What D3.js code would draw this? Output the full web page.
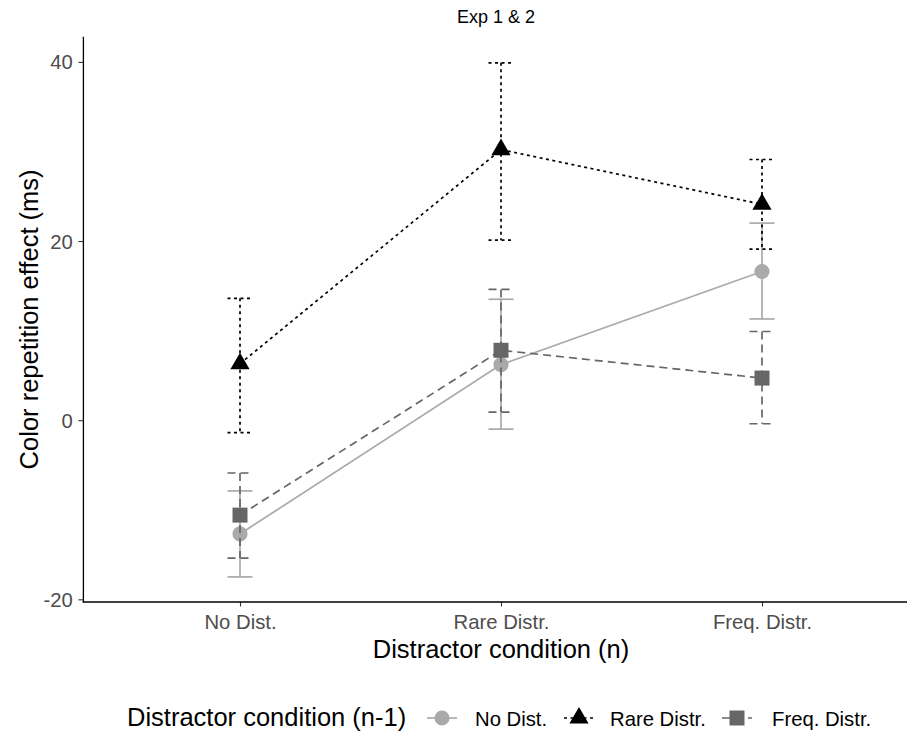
<!DOCTYPE html>
<html>
<head>
<meta charset="utf-8">
<script src="https://cdn.jsdelivr.net/npm/d3@7"></script>
<style>
  html, body { margin: 0; padding: 0; background: #ffffff; }
  svg { display: block; font-family: "Liberation Sans", Arial, sans-serif; }
</style>
</head>
<body>
<svg id="chart" width="907" height="731"></svg>
<script>
// ---- data ----
const categories = ["No Dist.", "Rare Distr.", "Freq. Distr."];
const seriesNames = ["No Dist.", "Rare Distr.", "Freq. Distr."];
const meanNoDist = [-12.7, 6.2, 16.6];
const lowNoDist  = [-17.5, -1.0, 11.3];
const highNoDist = [-7.9, 13.5, 22.0];
const meanRare   = [6.3, 30.2, 24.1];
const lowRare    = [-1.4, 20.1, 19.1];
const highRare   = [13.6, 39.9, 29.1];
const meanFreq   = [-10.6, 7.8, 4.7];
const lowFreq    = [-15.4, 0.9, -0.4];
const highFreq   = [-5.9, 14.6, 9.9];
const yTicks = [-20, 0, 20, 40];
const yTickLabels = ["-20", "0", "20", "40"];
const titleText = "Exp 1 & 2";
const xTitle = "Distractor condition (n)";
const yTitle = "Color repetition effect (ms)";
const legendTitle = "Distractor condition (n-1)";

const series = [
  { name: seriesNames[0], mean: meanNoDist, low: lowNoDist, high: highNoDist,
    color: "#AAAAAA", dash: null, shape: d3.symbolCircle, size: 180 },
  { name: seriesNames[1], mean: meanRare, low: lowRare, high: highRare,
    color: "#000000", dash: "3,3.5", shape: d3.symbolTriangle, size: 160 },
  { name: seriesNames[2], mean: meanFreq, low: lowFreq, high: highFreq,
    color: "#666666", dash: "8,5", shape: d3.symbolSquare, size: 225 }
];

const svg = d3.select("#chart");
const panel = { left: 83.4, right: 918.6, top: 36.8, bottom: 602 };

const x = d3.scalePoint().domain(categories)
  .range([panel.left, panel.right]).padding(0.6);
const y = d3.scaleLinear().domain([-20.3, 42.8])
  .range([panel.bottom, panel.top]);

// ---- axes ----
const tickFont = 20.3;
const yAxis = svg.append("g")
  .attr("transform", `translate(${panel.left},0)`)
  .call(d3.axisLeft(y).tickValues(yTicks)
    .tickFormat((d, i) => yTickLabels[i])
    .tickSize(5).tickPadding(5.5).tickSizeOuter(0));
yAxis.select(".domain").remove();
yAxis.selectAll(".tick line").attr("stroke", "#333333").attr("stroke-width", 1.1);
yAxis.selectAll(".tick text").attr("fill", "#4D4D4D")
  .style("font-size", tickFont + "px").attr("dy", "0.35em");

const xAxis = svg.append("g")
  .attr("transform", `translate(0,${panel.bottom})`)
  .call(d3.axisBottom(x).tickSize(4.5).tickPadding(8).tickSizeOuter(0));
xAxis.select(".domain").remove();
xAxis.selectAll(".tick line").attr("stroke", "#333333").attr("stroke-width", 1.1);
xAxis.selectAll(".tick text").attr("fill", "#4D4D4D")
  .style("font-size", tickFont + "px").attr("dy", "0.71em");

// axis lines
svg.append("line").attr("x1", panel.left).attr("x2", panel.left)
  .attr("y1", panel.top).attr("y2", panel.bottom + 0.55)
  .attr("stroke", "#000").attr("stroke-width", 1.3);
svg.append("line").attr("x1", panel.left - 0.65).attr("x2", panel.right)
  .attr("y1", panel.bottom).attr("y2", panel.bottom)
  .attr("stroke", "#000").attr("stroke-width", 1.3);

// ---- series ----
const lw = 1.7;
const capHalf = 12.5;
const line = d3.line().x((d, i) => x(categories[i])).y(d => y(d));

series.forEach(s => {
  const g = svg.append("g");
  g.append("path").datum(s.mean).attr("d", line)
    .attr("fill", "none").attr("stroke", s.color).attr("stroke-width", lw)
    .attr("stroke-dasharray", s.dash);
  g.selectAll("path.pt").data(s.mean).enter().append("path")
    .attr("class", "pt")
    .attr("d", d3.symbol(s.shape, s.size))
    .attr("transform", (d, i) => `translate(${x(categories[i])},${y(d)})`)
    .attr("fill", s.color);
  categories.forEach((c, i) => {
    const cx = x(c);
    const segs = [
      [cx - capHalf, y(s.high[i]), cx + capHalf, y(s.high[i])],
      [cx, y(s.high[i]), cx, y(s.low[i])],
      [cx - capHalf, y(s.low[i]), cx + capHalf, y(s.low[i])]
    ];
    segs.forEach(sg => {
      g.append("line").attr("x1", sg[0]).attr("y1", sg[1]).attr("x2", sg[2]).attr("y2", sg[3])
        .attr("stroke", s.color).attr("stroke-width", lw)
        .attr("stroke-dasharray", s.dash);
    });
  });
});

// ---- titles ----
svg.append("text").attr("x", 496).attr("y", 23).attr("text-anchor", "middle")
  .style("font-size", "18px").attr("fill", "#000").text(titleText);
svg.append("text").attr("x", 501).attr("y", 658).attr("text-anchor", "middle")
  .style("font-size", "25.5px").attr("fill", "#000").text(xTitle);
svg.append("text").attr("transform", `translate(38,${(panel.top + panel.bottom) / 2}) rotate(-90)`)
  .attr("text-anchor", "middle").style("font-size", "25.5px").attr("fill", "#000").text(yTitle);

// ---- legend ----
const legY = 718;
const leg = svg.append("g");
leg.append("text").attr("x", 127).attr("y", 726).style("font-size", "25.5px")
  .attr("fill", "#000").text(legendTitle);
const keyCenters = [442, 579, 737];
const labelStarts = [475, 610, 772];
series.forEach((s, k) => {
  const kx = keyCenters[k];
  leg.append("line").attr("x1", kx - 15).attr("x2", kx + 15)
    .attr("y1", legY).attr("y2", legY)
    .attr("stroke", s.color).attr("stroke-width", lw).attr("stroke-dasharray", s.dash);
  leg.append("path").attr("d", d3.symbol(s.shape, s.size))
    .attr("transform", `translate(${kx},${legY})`).attr("fill", s.color);
  leg.append("text").attr("x", labelStarts[k]).attr("y", 725.5)
    .style("font-size", tickFont + "px").attr("fill", "#000").text(s.name);
});
</script>
</body>
</html>
